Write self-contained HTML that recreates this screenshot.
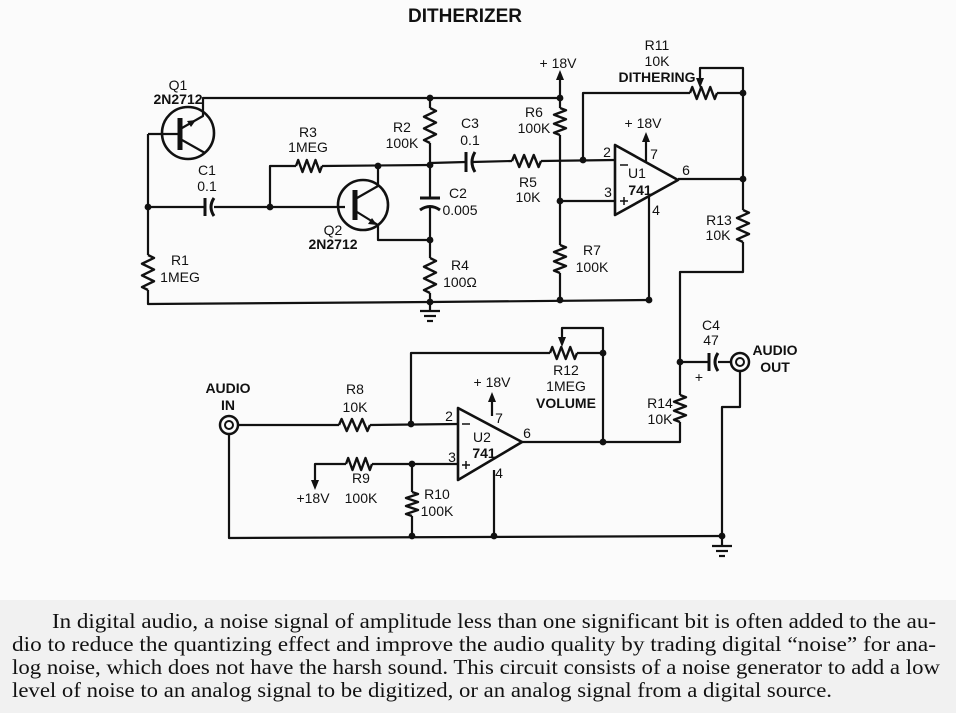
<!DOCTYPE html>
<html><head><meta charset="utf-8"><style>
html,body{margin:0;padding:0;background:#fbfbfb}
svg{display:block}
text{font-family:"Liberation Sans",sans-serif;font-size:14px;fill:#111}
.b{font-weight:bold}
.p{font-family:"Liberation Serif",serif;font-size:21px}
</style></head><body>
<svg id="s" width="956" height="713" viewBox="0 0 956 713" xmlns="http://www.w3.org/2000/svg">
<rect x="0" y="0" width="956" height="600" fill="#fbfbfb"/>
<rect x="0" y="600" width="956" height="113" fill="#f1f1f1"/>
<g id="w" fill="none" stroke="#111" stroke-width="2.2" stroke-linejoin="round"></g>
<g id="d" fill="#111"></g>
<text x="465" y="22" text-anchor="middle" class="b" style="font-size:19px">DITHERIZER</text>
<g text-anchor="middle">
<text x="178" y="90">Q1</text><text x="178" y="104" class="b">2N2712</text>
<text x="308" y="137">R3</text><text x="308" y="152">1MEG</text>
<text x="402" y="132">R2</text><text x="402" y="148">100K</text>
<text x="207" y="175">C1</text><text x="207" y="191">0.1</text>
<text x="458" y="198">C2</text><text x="460" y="215">0.005</text>
<text x="333" y="235">Q2</text><text x="333" y="249" class="b">2N2712</text>
<text x="180" y="265">R1</text><text x="180" y="282">1MEG</text>
<text x="460" y="270">R4</text><text x="460" y="287">100Ω</text>
<text x="558" y="68">+ 18V</text>
<text x="657" y="50">R11</text><text x="657" y="66">10K</text><text x="657" y="82" class="b">DITHERING</text>
<text x="470" y="128">C3</text><text x="470" y="145">0.1</text>
<text x="534" y="117">R6</text><text x="534" y="133">100K</text>
<text x="528" y="187">R5</text><text x="528" y="202">10K</text>
<text x="643" y="128">+ 18V</text>
<text x="607" y="157">2</text><text x="608" y="197">3</text><text x="654" y="159">7</text><text x="656" y="215">4</text><text x="686" y="175">6</text>
<text x="637" y="178">U1</text><text x="640" y="195" class="b">741</text>
<text x="719" y="225">R13</text><text x="718" y="240">10K</text>
<text x="592" y="255">R7</text><text x="592" y="272">100K</text>
<text x="228" y="393" class="b">AUDIO</text><text x="228" y="410" class="b">IN</text>
<text x="355" y="394">R8</text><text x="355" y="412">10K</text>
<text x="492" y="387">+ 18V</text>
<text x="566" y="375">R12</text><text x="566" y="391">1MEG</text><text x="566" y="408" class="b">VOLUME</text>
<text x="449" y="421">2</text><text x="452" y="462">3</text><text x="499" y="423">7</text><text x="499" y="478">4</text><text x="527" y="438">6</text>
<text x="482" y="442">U2</text><text x="484" y="458" class="b">741</text>
<text x="361" y="483">R9</text><text x="361" y="503">100K</text>
<text x="313" y="503">+18V</text>
<text x="437" y="499">R10</text><text x="437" y="516">100K</text>
<text x="660" y="408">R14</text><text x="660" y="424">10K</text>
<text x="711" y="330">C4</text><text x="711" y="345">47</text>
<text x="699" y="382">+</text>
<text x="775" y="355" class="b">AUDIO</text><text x="775" y="372" class="b">OUT</text>
</g>
<g>
<text class="p" x="52" y="628" textLength="884" lengthAdjust="spacingAndGlyphs">In digital audio, a noise signal of amplitude less than one significant bit is often added to the au-</text>
<text class="p" x="12" y="651" textLength="924" lengthAdjust="spacingAndGlyphs">dio to reduce the quantizing effect and improve the audio quality by trading digital “noise” for ana-</text>
<text class="p" x="12" y="674" textLength="928" lengthAdjust="spacingAndGlyphs">log noise, which does not have the harsh sound. This circuit consists of a noise generator to add a low</text>
<text class="p" x="12" y="697" textLength="820" lengthAdjust="spacingAndGlyphs">level of noise to an analog signal to be digitized, or an analog signal from a digital source.</text>
</g>
</svg>
<script>
var W=document.getElementById('w'),D=document.getElementById('d'),NS='http://www.w3.org/2000/svg';
function el(p,t,a){var e=document.createElementNS(NS,t);for(var k in a)e.setAttribute(k,a[k]);p.appendChild(e);return e;}
function P(d,sw){el(W,'path',{d:d,'stroke-width':sw||2.2});}
function dot(x,y){el(D,'circle',{cx:x,cy:y,r:3.4});}
function rv(x,y0,y1){var h=(y1-y0)/6,d='M'+x+','+y0;for(var i=0;i<6;i++)d+=' L'+(x+(i%2?-6:6))+','+(y0+h*(i+0.5));d+=' L'+x+','+y1;P(d,2.4);}
function rh(y,x0,x1){var h=(x1-x0)/6,d='M'+x0+','+y;for(var i=0;i<6;i++)d+=' L'+(x0+h*(i+0.5))+','+(y+(i%2?6:-6));d+=' L'+x1+','+y;P(d,2.4);}
function arrowUp(x,y){el(D,'path',{d:'M'+x+','+y+' l-4,10 l8,0z'});}
function arrowDn(x,y){el(D,'path',{d:'M'+x+','+y+' l-4,-10 l8,0z'});}
function gnd(x,y){P('M'+(x-10)+','+y+' L'+(x+10)+','+y);P('M'+(x-6)+','+(y+5)+' L'+(x+6)+','+(y+5));P('M'+(x-3)+','+(y+10)+' L'+(x+3)+','+(y+10));}
function caph(x,y){P('M'+x+','+(y-9)+' L'+x+','+(y+9),3);P('M'+(x+9)+','+(y-9)+' Q'+(x+3)+','+y+' '+(x+9)+','+(y+9),3);}
el(W,'circle',{cx:188,cy:133,r:26,'stroke-width':2.6});
P('M180,118 L180,150',5);
P('M148,134 L178,134');
P('M182,128 L203,116 L203,98 L560,98');
el(D,'path',{d:'M196,120 l-9,1 l4,6z'});
P('M182,140 L205,153');
P('M148,134 L148,255');rv(148,255,290);P('M148,290 L148,304 L430,302 L649,300');
dot(148,207);
P('M148,207 L205,207');caph(205,207);P('M214,207 L270,207 L345,207');dot(270,207);
P('M270,207 L270,166 L296,166');rh(166,296,322);P('M322,166 L430,165');
el(W,'circle',{cx:363,cy:205,r:25,'stroke-width':2.6});
P('M355,190 L355,220',5);
P('M357,198 L378,186 L378,166');dot(378,166);
P('M357,212 L378,225 L378,240 L430,240');
el(D,'path',{d:'M377,225 l-9,-1 l4,-6z'});
dot(430,98);P('M430,98 L430,108');rv(430,108,143);P('M430,143 L430,198');dot(430,165);
P('M420,198 L440,198',3);P('M420,210 Q430,203 440,210',3);
P('M430,206 L430,258');dot(430,240);rv(430,258,293);P('M430,293 L430,302');dot(430,302);gnd(430,311);P('M430,302 L430,311');
P('M430,163 L466,162');P('M466,152 L466,172',3);P('M475,152 Q469,162 475,172',3);
P('M472,162 L512,161');rh(161,512,541);P('M541,161 L615,160');dot(583,160);
P('M560,75 L560,108');arrowUp(560,70);dot(560,98);rv(560,108,135);P('M560,135 L560,245');rv(560,245,273);P('M560,273 L560,300');dot(560,201);dot(560,300);
P('M560,201 L615,201');
el(W,'path',{d:'M615,145 L615,215 L678,180 Z','stroke-width':2.6});
P('M620,165 L628,165',1.5);P('M620,201 L628,201 M624,197 L624,205',1.5);
P('M646,162 L646,140');arrowUp(646,132);
P('M649,196 L649,300');dot(649,300);
P('M678,179 L743,179');dot(743,179);
P('M583,160 L583,93 L690,93');rh(93,690,717);P('M717,93 L743,93');dot(743,93);
P('M700,78 L700,68 L743,68 L743,210');arrowDn(700,88);
rv(743,210,242);P('M743,242 L743,272 L680,272 L680,395');dot(680,362);rv(680,395,422);P('M680,422 L680,442 L522,442');
P('M680,362 L708,362');caph(709,362);P('M718,362 L731,362');
el(W,'circle',{cx:740,cy:362,r:9,'stroke-width':2.5});el(W,'circle',{cx:740,cy:362,r:4,'stroke-width':2});
P('M740,371 L740,407 L722,407 L722,536');dot(722,536);P('M722,536 L722,545');gnd(722,546);
el(W,'circle',{cx:229,cy:425,r:9,'stroke-width':2.5});el(W,'circle',{cx:229,cy:425,r:4,'stroke-width':2});
P('M238,425 L339,425');rh(425,339,370);P('M370,425 L458,424');dot(411,424);
P('M411,424 L411,353 L550,353');rh(353,550,577);P('M577,353 L603,353 L603,442');dot(603,353);dot(603,442);
P('M562,338 L562,328 L603,328 L603,353');arrowDn(562,347);
el(W,'path',{d:'M458,408 L458,480 L522,442 Z','stroke-width':2.6});
P('M462,424 L470,424',1.5);P('M462,465 L470,465 M466,461 L466,469',1.5);
P('M492,416 L492,400');arrowUp(492,392);
P('M494,470 L494,536');dot(494,536);
P('M315,480 L315,464 L346,464');arrowDn(315,490);rh(464,346,372);P('M372,464 L458,464');dot(412,464);
P('M412,464 L412,492');rv(412,492,516);P('M412,516 L412,536');dot(412,536);
P('M229,434 L229,538 L722,536');
</script>
</body></html>
